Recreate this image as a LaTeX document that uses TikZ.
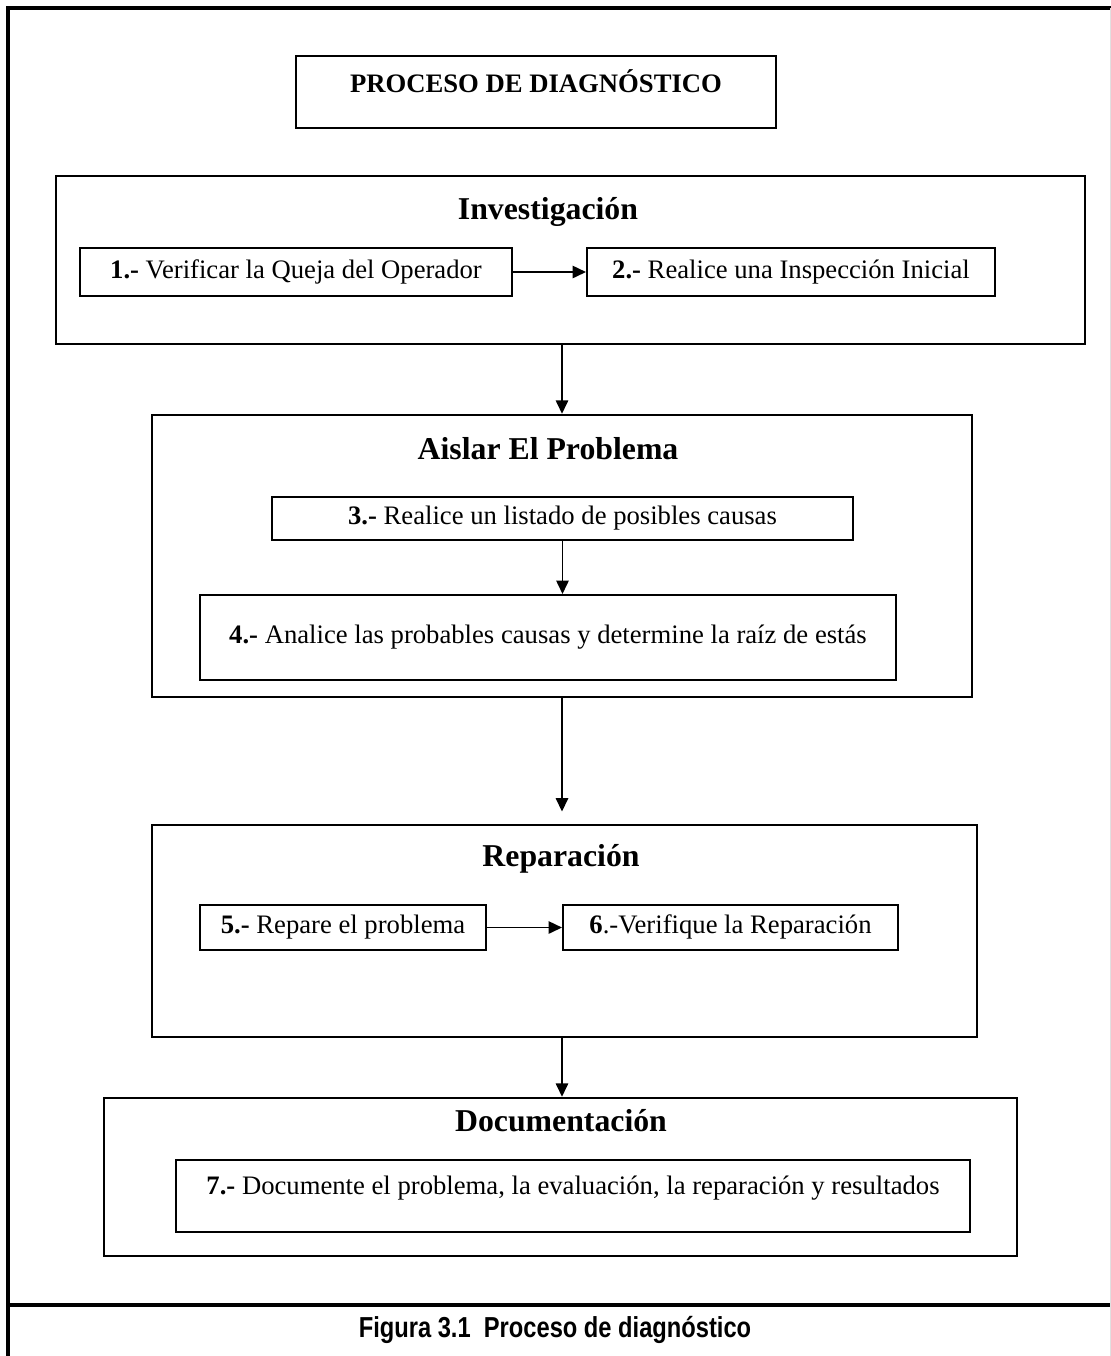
\documentclass[tikz,border=0pt]{standalone}
\usepackage{fontspec}
\setmainfont{Liberation Serif}
\newfontfamily\captionfont[FakeStretch=0.82]{Liberation Sans}
\usepackage{xcolor}
\usepackage{tikz}
\usetikzlibrary{arrows.meta, positioning}
\newcommand{\pxu}{0.45pt}

\begin{document}
\begin{tikzpicture}[x=0.45pt, y=-0.45pt,
    phasebox/.style={draw, line width=1.1pt, inner sep=0pt},
    stepbox/.style={draw, line width=0.9pt, inner sep=0pt, font=\fontsize{12}{14}\selectfont,
                    text height=1.5ex, text depth=.25ex},
    phasetitle/.style={font=\fontsize{14.3}{17}\selectfont\bfseries},
    flow/.style={-{Triangle[length=6pt, width=5.5pt]}, line width=0.85pt}]
  \useasboundingbox (0,0) rectangle (1111,1356);

  % frame round the figure and rule above the caption
  \draw[line width=1.6pt] (8,1356) -- (8,8) -- (1111,8);
  \draw[line width=1.8pt] (8,1305) -- (1111,1305);
  \draw[black!12, line width=0.4pt] (1110,8) -- (1110,1356);

  \node[stepbox, minimum width=480*\pxu, minimum height=72*\pxu, text depth=6.5pt] (titulo) at (536,92)
    {\textbf{PROCESO DE DIAGNÓSTICO}};

  % Investigacion
  \node[phasebox, minimum width=1029*\pxu, minimum height=168*\pxu] (inv) at (570.5,260) {};
  \node[phasetitle] (invtit) at (548,212) {Investigación};
  \node[stepbox, minimum width=432*\pxu, minimum height=48*\pxu] (s1) at (296,272)
    {\textbf{1.-} Verificar la Queja del Operador};
  \node[stepbox, minimum width=408*\pxu, minimum height=48*\pxu, right=32.85pt of s1] (s2)
    {\textbf{2.-} Realice una Inspección Inicial};

  % Aislar el problema
  \node[phasebox, minimum width=820*\pxu, minimum height=282*\pxu] (ais) at (562,556) {};
  \node[phasetitle] (aistit) at (548,449) {Aislar El Problema};
  \node[stepbox, minimum width=581*\pxu, minimum height=43*\pxu] (s3) at (562.5,518.5)
    {\textbf{3.-} Realice un listado de posibles causas};
  \node[stepbox, minimum width=696*\pxu, minimum height=85*\pxu] (s4) at (548,637.5)
    {\textbf{4.-} Analice las probables causas y determine la raíz de estás};

  % Reparacion
  \node[phasebox, minimum width=825*\pxu, minimum height=212*\pxu] (rep) at (564.5,931) {};
  \node[phasetitle] (reptit) at (561,859) {Reparación};
  \node[stepbox, minimum width=286*\pxu, minimum height=45*\pxu] (s5) at (343,927.5)
    {\textbf{5.-} Repare el problema};
  \node[stepbox, minimum width=335*\pxu, minimum height=45*\pxu, right=33.75pt of s5] (s6)
    {\textbf{6}.-Verifique la Reparación};

  % Documentacion
  \node[phasebox, minimum width=913*\pxu, minimum height=158*\pxu] (doc) at (560.5,1177) {};
  \node[phasetitle] (doctit) at (561,1121) {Documentación};
  \node[stepbox, minimum width=794*\pxu, minimum height=72*\pxu, text depth=8.5pt] (s7) at (573,1196)
    {\textbf{7.-} Documente el problema, la evaluación, la reparación y resultados};

  \draw[flow] (s1) -- (s2);
  \draw[flow] (s5) -- (s6);
  \draw[flow] (inv.south -| ais.north) -- (ais.north);
  \draw[flow] (s3.south) -- (s3.south |- s4.north);
  \draw[flow, shorten >=5.5pt] (ais.south) -- (ais.south |- rep.north);
  \draw[flow] (rep.south -| ais.south) -- (ais.south |- doc.north);

  \node[font=\captionfont\fontsize{13}{15}\selectfont\bfseries] (caption) at (555,1330)
    {Figura 3.1~~Proceso de diagnóstico};
\end{tikzpicture}
\end{document}
